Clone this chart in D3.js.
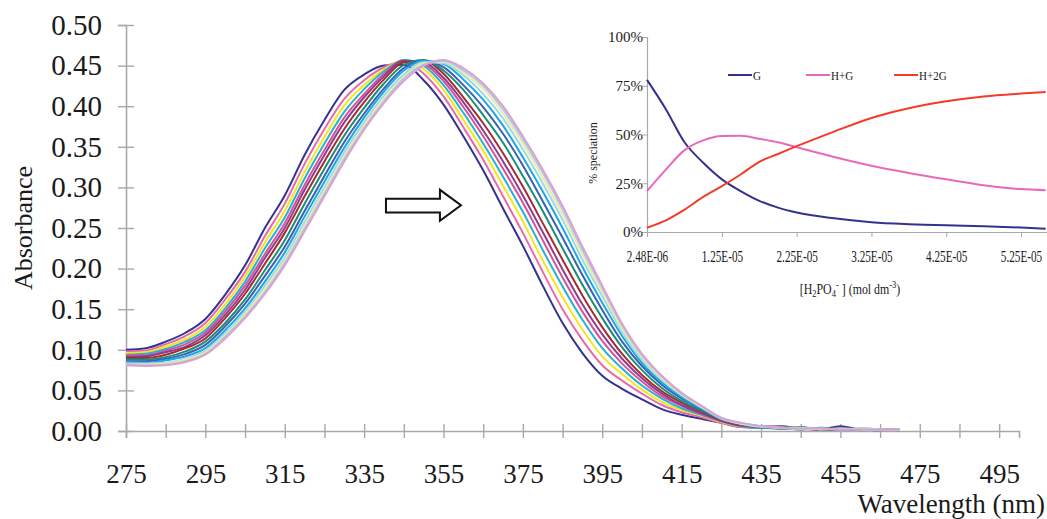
<!DOCTYPE html>
<html>
<head>
<meta charset="utf-8">
<script src="https://cdn.jsdelivr.net/npm/d3@7/dist/d3.min.js"></script>
<style>
  body { margin: 0; background: #fff; }
  svg, svg text { font-family: 'Liberation Serif', 'Times New Roman', 'Liberation Sans', sans-serif; }
  svg { display: block; }
</style>
</head>
<body>
<svg id="chart" width="1047" height="519"></svg>
<script>
// ---- main spectra (absorbance vs wavelength, one array per titration step) ----
var wavelengths = [275,280,285,290,295,300,305,310,315,320,325,330,335,340,345,350,355,360,365,370,
                   375,380,385,390,395,400,405,410,415,420,425,430,435,440,445,450,455,460,465,470];

var spectra = [
  [.100,.102,.110,.121,.138,.168,.204,.250,.290,.340,.383,.420,.439,.450,.451,.432,.402,.363,.321,.274,.228,.179,.133,.096,.068,.052,.039,.027,.020,.015,.010,.005,.004,.006,.003,.002,.006,.002,.002,.002],
  [.098,.099,.107,.117,.133,.162,.196,.240,.280,.329,.372,.409,.432,.448,.455,.440,.412,.374,.334,.289,.244,.196,.150,.112,.081,.062,.046,.032,.023,.017,.010,.005,.004,.004,.003,.002,.002,.002,.002,.001],
  [.096,.097,.104,.113,.128,.156,.190,.232,.271,.319,.362,.401,.426,.445,.457,.446,.420,.383,.345,.302,.258,.210,.165,.125,.092,.070,.051,.036,.026,.019,.011,.006,.005,.003,.002,.003,.002,.001,.002,.002],
  [.094,.095,.101,.110,.124,.151,.184,.225,.263,.311,.354,.393,.421,.443,.457,.450,.426,.392,.354,.313,.270,.223,.178,.137,.102,.077,.056,.040,.028,.020,.012,.006,.004,.004,.004,.002,.003,.002,.001,.002],
  [.093,.093,.099,.107,.121,.147,.179,.218,.256,.303,.346,.386,.415,.440,.456,.452,.431,.399,.363,.323,.281,.235,.189,.147,.111,.083,.061,.043,.031,.021,.012,.007,.005,.003,.003,.002,.002,.003,.002,.001],
  [.091,.092,.097,.104,.118,.143,.174,.213,.250,.297,.340,.380,.411,.437,.456,.454,.435,.405,.370,.332,.290,.245,.199,.156,.119,.089,.065,.046,.032,.022,.013,.007,.006,.005,.002,.003,.002,.002,.002,.002],
  [.090,.090,.094,.102,.114,.139,.169,.206,.244,.289,.332,.372,.405,.433,.454,.456,.440,.411,.379,.342,.301,.256,.211,.167,.128,.095,.069,.049,.035,.024,.013,.007,.005,.004,.003,.002,.003,.002,.001,.002],
  [.088,.088,.091,.098,.110,.133,.162,.198,.235,.280,.323,.364,.398,.428,.451,.457,.444,.420,.389,.355,.314,.271,.225,.180,.139,.103,.075,.053,.037,.025,.014,.008,.004,.003,.005,.002,.002,.001,.002,.001],
  [.086,.086,.089,.095,.106,.129,.157,.191,.227,.271,.314,.356,.391,.422,.447,.456,.448,.426,.399,.366,.327,.283,.238,.192,.149,.110,.080,.057,.040,.027,.014,.008,.005,.004,.002,.004,.002,.002,.002,.002],
  [.085,.084,.087,.092,.102,.124,.151,.184,.220,.264,.307,.349,.386,.418,.444,.456,.452,.433,.408,.376,.337,.295,.250,.202,.158,.117,.084,.060,.042,.028,.015,.009,.006,.003,.003,.002,.003,.002,.001,.002],
  [.083,.083,.084,.089,.099,.120,.147,.179,.214,.257,.300,.343,.380,.413,.439,.454,.453,.438,.415,.385,.347,.305,.260,.211,.166,.122,.088,.063,.044,.029,.015,.009,.005,.004,.002,.003,.002,.003,.002,.001],
  [.082,.082,.083,.088,.097,.118,.144,.175,.210,.253,.296,.338,.376,.409,.436,.453,.455,.441,.421,.391,.354,.312,.267,.218,.171,.126,.091,.065,.045,.030,.016,.009,.006,.004,.004,.002,.003,.002,.002,.002],
  [.082,.081,.082,.086,.095,.116,.141,.171,.207,.249,.292,.335,.373,.406,.434,.451,.456,.444,.425,.396,.359,.318,.273,.223,.176,.130,.093,.067,.046,.031,.016,.010,.006,.004,.003,.003,.002,.002,.001,.002],
  [.081,.080,.081,.085,.094,.114,.139,.169,.204,.246,.289,.332,.371,.404,.431,.450,.457,.447,.428,.400,.363,.322,.277,.227,.179,.132,.095,.068,.047,.031,.016,.010,.006,.004,.003,.003,.002,.002,.002,.002]
];

var spectrumColors = ['#33338f','#e86aae','#f7e41c','#23b2d2','#d4519f','#8f3c8e','#a72a2e',
                      '#1b8e78','#3b5fb3','#1ba8e4','#9fd9e6','#eeeaa0','#a9c9ec','#dca1cf'];

var xTicks = [275,285,295,305,315,325,335,345,355,365,375,385,395,405,415,425,435,445,455,465,475,485,495];
var xTickLabels = ['275','295','315','335','355','375','395','415','435','455','475','495'];
var yTicks = [0,0.05,0.10,0.15,0.20,0.25,0.30,0.35,0.40,0.45,0.50];

// ---- inset: speciation vs [H2PO4-] ----
var concentration = [2.48e-6,5e-6,7.5e-6,1e-5,1.25e-5,1.5e-5,1.75e-5,2e-5,2.25e-5,2.75e-5,3.25e-5,3.75e-5,4.25e-5,4.75e-5,5.25e-5,5.58e-5];
var speciesG   = [78,63,46,35.5,27,21,16,12.5,10,7,5,4,3.4,3,2.3,1.7];
var speciesHG  = [21,32,42,47,49.2,49.3,47.8,46,43.5,38.5,34,30.3,27,24,22,21.4];
var speciesH2G = [2.2,6,11.5,18,23.5,29.5,36,40,44,51.5,58.5,63.5,67,69.5,71,71.8];
var speciesNames = ['G','H+G','H+2G'];
var speciesColors = ['#33338f','#e869b9','#f23c28'];

var insetXTicks = [2.48e-6,1.25e-5,2.25e-5,3.25e-5,4.25e-5,5.25e-5];
var insetXTickLabels = ['2.48E-06','1.25E-05','2.25E-05','3.25E-05','4.25E-05','5.25E-05'];
var insetYTicks = [0,25,50,75,100];
var insetYTickLabels = ['0%','25%','50%','75%','100%'];

var svg = d3.select('#chart');
var axisGrey = '#a8a8a8';
var textColor = '#1a1a1a';
var fontStack = "'Liberation Serif', 'Times New Roman', 'Liberation Sans', sans-serif";

// ---- main chart ----
var x = d3.scaleLinear().domain([275, 500]).range([126, 1019]);
var y = d3.scaleLinear().domain([0, 0.5]).range([431, 25]);

var xAxis = svg.append('g')
    .attr('transform', 'translate(0,' + y(0) + ')')
    .call(d3.axisBottom(x).tickValues(xTicks).tickSizeOuter(0).tickSize(7)
        .tickFormat(function (d) { return xTickLabels.indexOf(String(d)) >= 0 ? String(d) : ''; }));
xAxis.attr('font-family', fontStack);
xAxis.select('.domain').attr('stroke', axisGrey).attr('stroke-width', 1.6);
xAxis.selectAll('.tick line').attr('stroke', axisGrey).attr('stroke-width', 1.4).attr('y1', -7);
xAxis.selectAll('.tick text').attr('y', 33).attr('font-size', 27).attr('fill', textColor);

var yAxis = svg.append('g')
    .attr('transform', 'translate(' + x(275) + ',0)')
    .call(d3.axisLeft(y).tickValues(yTicks).tickSizeOuter(0).tickSize(8).tickFormat(d3.format('.2f')));
yAxis.attr('font-family', fontStack);
yAxis.select('.domain').attr('stroke', axisGrey).attr('stroke-width', 1.6);
yAxis.selectAll('.tick line').attr('stroke', axisGrey).attr('stroke-width', 1.4).attr('x1', 8);
yAxis.selectAll('.tick text').attr('x', -24).attr('font-size', 29).attr('fill', textColor);

var line = d3.line()
    .x(function (d, i) { return x(wavelengths[i]); })
    .y(function (d) { return y(d); })
    .curve(d3.curveMonotoneX);

svg.append('g').selectAll('path')
    .data(spectra)
    .enter()
    .append('path')
    .attr('d', line)
    .attr('fill', 'none')
    .attr('stroke', function (d, i) { return spectrumColors[i]; })
    .attr('stroke-width', 2);

// block arrow showing the red shift
var arrowPts = [[340.5,0.286],[354.1,0.286],[354.1,0.297],[359.4,0.278],[354.1,0.259],[354.1,0.269],[340.5,0.269]];
svg.append('polygon')
    .attr('points', arrowPts.map(function (p) { return x(p[0]) + ',' + y(p[1]); }).join(' '))
    .attr('fill', '#fff').attr('stroke', '#111').attr('stroke-width', 2);

svg.append('text')
    .attr('transform', 'translate(32,228) rotate(-90)')
    .attr('text-anchor', 'middle')
    .attr('font-family', fontStack)
    .attr('font-size', 26).attr('fill', textColor)
    .text('Absorbance');

svg.append('text')
    .attr('x', 1045).attr('y', 513)
    .attr('text-anchor', 'end')
    .attr('font-family', fontStack)
    .attr('font-size', 27).attr('fill', textColor)
    .text('Wavelength (nm)');

// ---- inset chart ----
var ix = d3.scaleLinear().domain([2.48e-6, 5.25e-5]).range([647, 1021]);
var iy = d3.scaleLinear().domain([0, 100]).range([232, 37]);

var ixAxis = svg.append('g')
    .attr('transform', 'translate(0,' + iy(0) + ')')
    .call(d3.axisBottom(ix).tickValues(insetXTicks).tickSizeOuter(0).tickSize(5)
        .tickFormat(function (d, i) { return insetXTickLabels[i]; }));
ixAxis.attr('font-family', fontStack);
ixAxis.select('.domain').attr('stroke', axisGrey).attr('stroke-width', 1.2).attr('d', 'M647,0.5H1047');
ixAxis.selectAll('.tick line').attr('stroke', axisGrey);
ixAxis.selectAll('.tick text').attr('y', 19).attr('font-size', 16).attr('fill', textColor)
    .attr('transform', 'scale(0.7,1)');

var iyAxis = svg.append('g')
    .attr('transform', 'translate(' + ix(2.48e-6) + ',0)')
    .call(d3.axisLeft(iy).tickValues(insetYTicks).tickSizeOuter(0).tickSize(5)
        .tickFormat(function (d, i) { return insetYTickLabels[i]; }));
iyAxis.attr('font-family', fontStack);
iyAxis.select('.domain').attr('stroke', axisGrey).attr('stroke-width', 1.2);
iyAxis.selectAll('.tick line').attr('stroke', axisGrey);
iyAxis.selectAll('.tick text').attr('x', -4).attr('font-size', 15).attr('fill', textColor);

var species = [speciesG, speciesHG, speciesH2G];
var iline = d3.line()
    .x(function (d, i) { return ix(concentration[i]); })
    .y(function (d) { return iy(d); })
    .curve(d3.curveMonotoneX);

svg.append('g').selectAll('path')
    .data(species)
    .enter()
    .append('path')
    .attr('d', iline)
    .attr('fill', 'none')
    .attr('stroke', function (d, i) { return speciesColors[i]; })
    .attr('stroke-width', 2);

// legend
var legendX = [728, 806, 894];
var legend = svg.append('g').selectAll('g')
    .data(speciesNames)
    .enter()
    .append('g')
    .attr('transform', function (d, i) { return 'translate(' + legendX[i] + ',75)'; });
legend.append('line')
    .attr('x1', 0).attr('x2', 24)
    .attr('stroke', function (d, i) { return speciesColors[i]; })
    .attr('stroke-width', 2);
legend.append('text')
    .attr('y', 4.5)
    .attr('font-family', fontStack)
    .attr('font-size', 13).attr('fill', textColor)
    .attr('transform', 'scale(0.85,1)')
    .attr('x', 25 / 0.85)
    .text(function (d) { return d; });

svg.append('text')
    .attr('transform', 'translate(597,153) rotate(-90)')
    .attr('text-anchor', 'middle')
    .attr('font-family', fontStack)
    .attr('font-size', 12).attr('fill', textColor)
    .text('% speciation');

var ititle = svg.append('text')
    .attr('transform', 'translate(850,294) scale(0.85,1)')
    .attr('text-anchor', 'middle')
    .attr('font-family', fontStack)
    .attr('font-size', 14).attr('fill', textColor);
ititle.append('tspan').text('[H');
ititle.append('tspan').attr('font-size', 10).attr('dy', 3).text('2');
ititle.append('tspan').attr('dy', -3).text('PO');
ititle.append('tspan').attr('font-size', 10).attr('dy', 3).text('4');
ititle.append('tspan').attr('font-size', 10).attr('dy', -9).text('-');
ititle.append('tspan').attr('dy', 6).text(' ] (mol dm');
ititle.append('tspan').attr('font-size', 10).attr('dy', -6).text('-3');
ititle.append('tspan').attr('dy', 6).text(')');
</script>
</body>
</html>
